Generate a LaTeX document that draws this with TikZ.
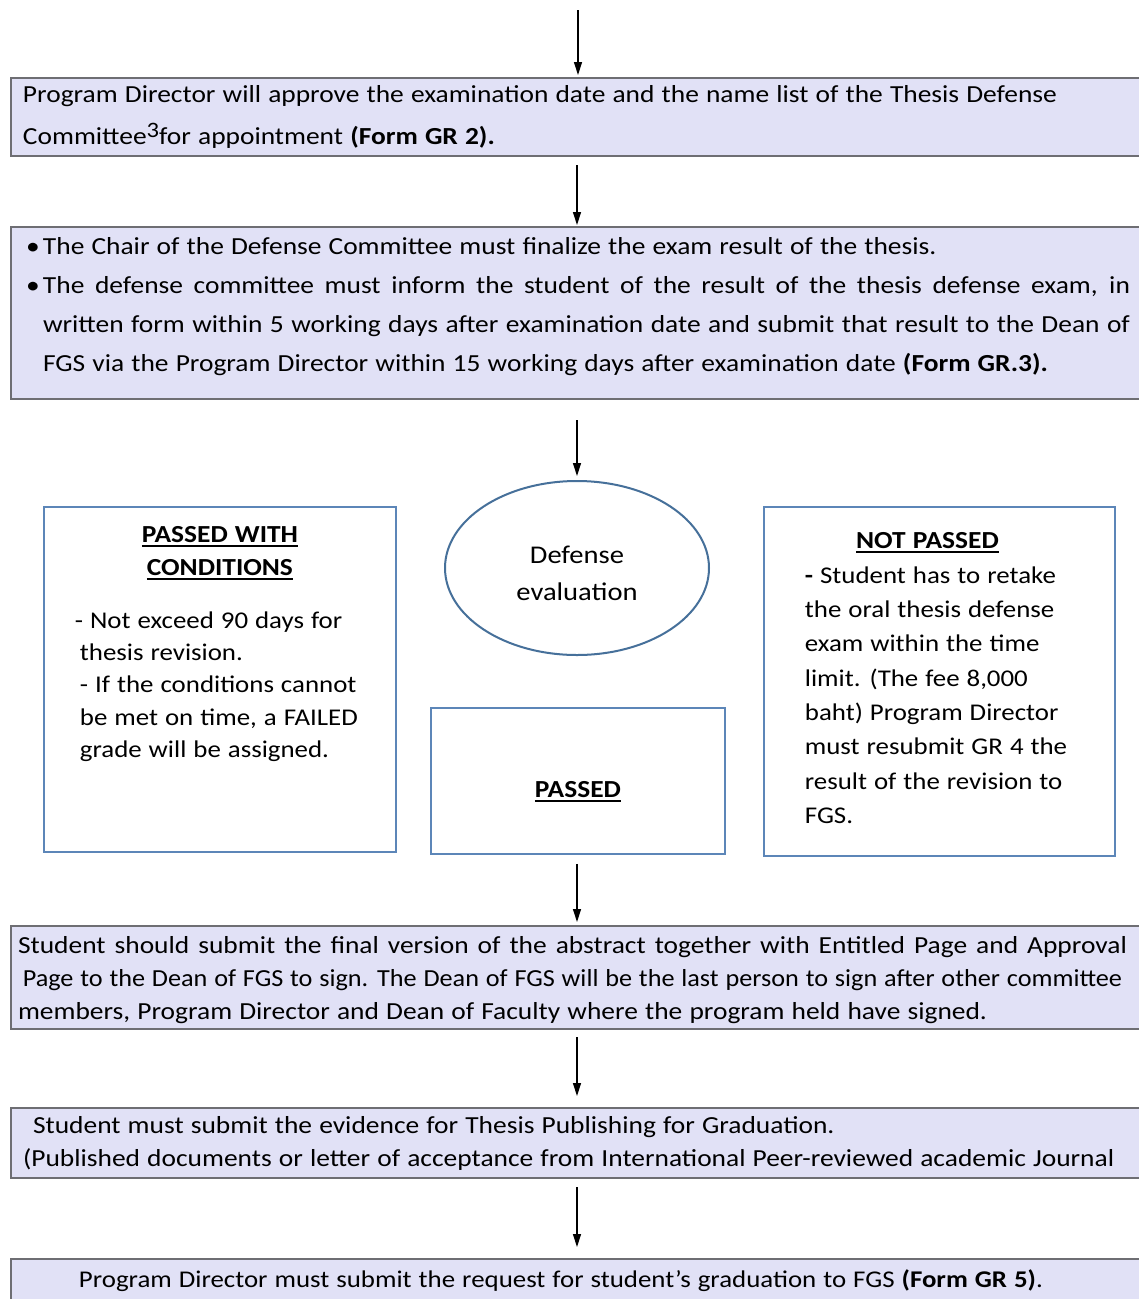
\documentclass[tikz,border=0pt]{standalone}
\usepackage{fontspec}
\usepackage{graphicx}
\setmainfont{Carlito}[FakeStretch=1.12,WordSpace=1.15]
\usetikzlibrary{arrows.meta,shapes.geometric}
\definecolor{boxfill}{HTML}{E1E1F6}
\definecolor{boxline}{HTML}{6E6E73}
\definecolor{blueline}{HTML}{5C86B8}
\definecolor{ellline}{HTML}{46709A}
\newcommand\myul[1]{\leavevmode\setbox0\hbox{#1}\rlap{\rule[-4pt]{\wd0}{2pt}}\box0}
\newcommand\mainsize{\fontsize{24.5}{42}\selectfont}
\begin{document}
\begin{tikzpicture}[x=1pt,y=-1pt,
  flowbox/.style={draw=boxline,line width=2pt,fill=boxfill,rectangle,inner sep=0pt,anchor=north west,minimum width=1131pt},
  midbox/.style={draw=blueline,line width=1.8pt,fill=white,rectangle,inner sep=0pt,anchor=north west},
  arr/.style={-{Triangle[length=13pt,width=8pt]},line width=1.3pt,black}]
\useasboundingbox (0,0) rectangle (1139,1299);
\fill[white] (0,0) rectangle (1139,1299);
\coordinate (col) at (577,0);
\coordinate (top) at (578,10);

% box 1
\node[flowbox,minimum height=78pt] (b1) at (10,77)
 {\makebox[1131pt][l]{\hspace*{12pt}\parbox[c]{1110pt}{\fontsize{24.5}{42}\selectfont
 Program Director will approve the examination date and the name list of the Thesis Defense\\
 Committee\raisebox{7pt}{\fontsize{22}{22}\selectfont 3}for appointment \textbf{(Form GR 2).}}}};

% box 2
\node[flowbox,minimum height=172pt] (b2) at (10,226)
 {\makebox[1131pt][l]{\hspace*{12pt}\parbox[c]{1107pt}{\fontsize{24.5}{39}\selectfont
 \noindent\hangindent=20pt\hangafter=1\makebox[20pt][l]{\hspace*{3pt}\textbullet}The Chair of the Defense Committee must finalize the exam result of the thesis.\par
 \noindent\hangindent=20pt\hangafter=1\makebox[20pt][l]{\hspace*{3pt}\textbullet}The defense committee must inform the student of the result of the thesis defense exam, in\linebreak
 written form within 5 working days after examination date and submit that result to the Dean of\linebreak
 FGS via the Program Director within 15 working days after examination date \textbf{(Form GR.3).}\par
 \vspace{12pt}}}};

% ellipse
\node[draw=ellline,line width=2pt,ellipse,minimum width=264pt,minimum height=174pt,inner sep=0pt] (ev) at (577,568)
 {\parbox{140pt}{\centering\fontsize{25.5}{37}\selectfont\vspace*{10pt}Defense\\evaluation\par}};

% left box
\node[midbox] (pwc) at (43,506)
 {\parbox[c][345pt][t]{352pt}{\fontsize{24}{32.3}\selectfont
 \vspace*{20pt}
 {\centering\bfseries\fontsize{24.5}{33}\selectfont \myul{PASSED WITH}\\ \myul{CONDITIONS}\par}
 \vspace{20pt}
 \leftskip=36pt\parindent=0pt
 \leavevmode\hspace*{-5pt}- Not exceed 90 days for\\
 thesis revision.\\
 - If the conditions cannot\\
 be met on time, a FAILED\\
 grade will be assigned.\par}};

% middle box
\node[midbox,minimum width=294pt,minimum height=146pt] (passed) at (430,707)
 {\raisebox{-17pt}[0pt][0pt]{\fontsize{24.5}{33}\selectfont\bfseries\myul{PASSED}}};

% right box
\node[midbox] (np) at (763,506)
 {\parbox[c][349pt][t]{351pt}{\fontsize{24}{34.3}\selectfont
 \vspace*{26pt}
 {\centering\bfseries\fontsize{24.5}{33}\selectfont\leavevmode\hspace*{-24pt}\myul{NOT PASSED}\par}
 \leftskip=41pt\parindent=0pt
 \textbf{-} Student has to retake\\
 the oral thesis defense\\
 exam within the time\\
 limit. (The fee 8,000\\
 baht) Program Director\\
 must resubmit GR 4 the\\
 result of the revision to\\
 FGS.\par}};

% box 4
\node[flowbox,minimum height=103pt] (b4) at (10,925)
 {\makebox[1131pt][l]{\hspace*{7pt}\parbox[c]{1112pt}{\fontsize{24.5}{33}\selectfont\parindent=0pt
 \vspace*{6pt}
 \makebox[1109pt][s]{Student should submit the final version of the abstract together with Entitled Page and Approval}\\
 \resizebox{1104pt}{\height}{\hspace*{5pt}Page to the Dean of FGS to sign. The Dean of FGS will be the last person to sign after other committee}\\
 members, Program Director and Dean of Faculty where the program held have signed.\par}}};

% box 5
\node[flowbox,minimum height=70pt] (b5) at (10,1107)
 {\makebox[1131pt][l]{\hspace*{12pt}\parbox[c]{1250pt}{\fontsize{24.5}{33}\selectfont
 \hspace*{10pt}Student must submit the evidence for Thesis Publishing for Graduation.\\
 (Published documents or letter of acceptance from International Peer-reviewed academic Journal}}};

% box 6
\node[flowbox,minimum height=44pt] (b6) at (10,1258)
 {\makebox[1131pt][l]{\hspace*{68pt}\fontsize{24}{33}\selectfont Program Director must submit the request for student’s graduation to FGS \textbf{(Form GR 5)}.}};

% arrows
\draw[arr,shorten >=2pt] (top) -- (b1.north -| top);
\draw[arr,shorten <=8pt,shorten >=1pt] (b1.south -| col) -- (b2.north -| col);
\draw[arr,shorten <=20pt,shorten >=4pt] (b2.south -| col) -- (ev.north -| col);
\draw[arr,shorten <=9pt,shorten >=3pt] (passed.south -| col) -- (b4.north -| col);
\draw[arr,shorten <=7pt,shorten >=11pt] (b4.south -| col) -- (b5.north -| col);
\draw[arr,shorten <=8pt,shorten >=11pt] (b5.south -| col) -- (b6.north -| col);
\end{tikzpicture}
\end{document}
